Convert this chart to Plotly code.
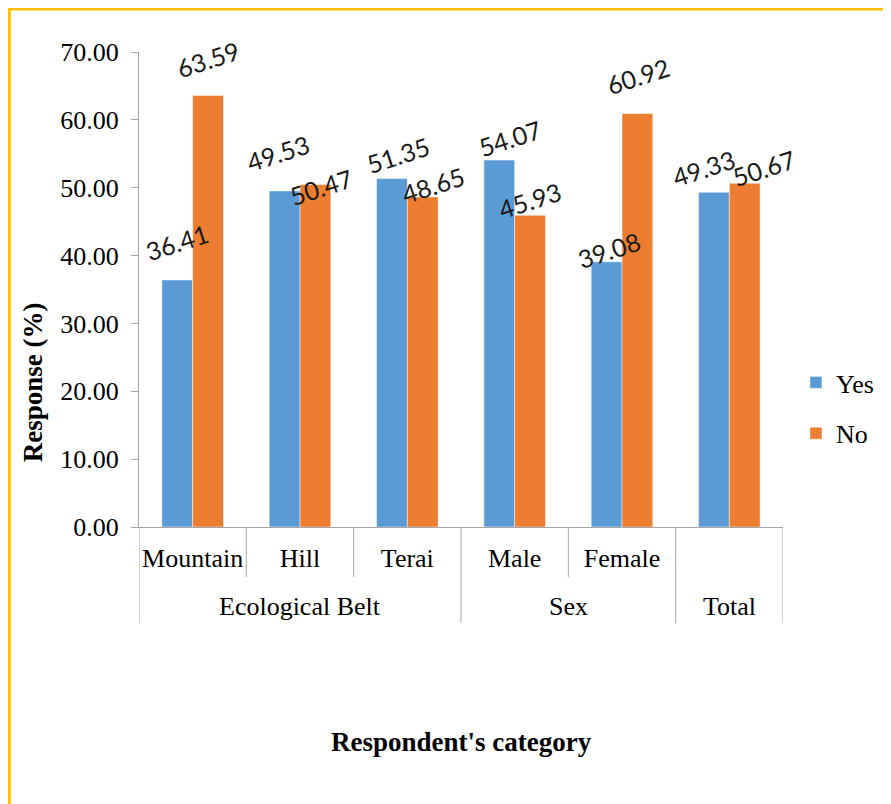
import plotly.graph_objects as go

# ---- data ----
categories = ["Mountain", "Hill", "Terai", "Male", "Female", " "]
groups = ["Ecological Belt", "Sex", "Total"]
group_sizes = [3, 2, 1]
yes_values = [36.41, 49.53, 51.35, 54.07, 39.08, 49.33]
no_values = [63.59, 50.47, 48.65, 45.93, 60.92, 50.67]
y_ticks = [0, 10, 20, 30, 40, 50, 60, 70]

# manual label nudges (pixels) as placed in the original chart
yes_label_dx = [0, -7, 6, 11, 2, -10]
yes_label_dy = [38, 38, 24, 22, 12, 24]
no_label_dx = [0, 5, 10, 0, 0, 19]
no_label_dy = [37, -2, 12, 15, 38, 15]

# ---- layout constants (pixels, reference coordinates) ----
OFF = 8                      # page body margin
W, H = 891 - OFF, 804 - OFF
PLOT_L, PLOT_R, PLOT_T, PLOT_B = 139, 785, 52, 527
PW = PLOT_R - PLOT_L
PH = PLOT_B - PLOT_T
BAR_HALF = 15.5


def px_x(px):
    return (px - PLOT_L) / PW


def px_y(py):
    return (PLOT_B - py) / PH


serif = "Liberation Serif, Times New Roman, serif"
label_font = dict(family="Lato, Carlito, Calibri, sans-serif", size=25, color="#1a1a1a")

fig = go.Figure()
fig.add_trace(go.Bar(
    name="Yes", x=categories, y=yes_values,
    marker=dict(color="#5b9bd5", line=dict(color="rgba(255,255,255,0.6)", width=0.8)),
    legendgroup="yes", hoverinfo="y",
))
fig.add_trace(go.Bar(
    name="No", x=categories, y=no_values,
    marker=dict(color="#ed7d31", line=dict(color="rgba(255,255,255,0.6)", width=0.8)),
    legendgroup="no", hoverinfo="y",
))

shapes = []
boundaries_long = {0}
acc = 0
for s in group_sizes:
    acc += s
    boundaries_long.add(acc)
for i in range(len(categories) + 1):
    y1 = px_y(623) if i in boundaries_long else px_y(577)
    shapes.append(dict(type="line", xref="x", yref="paper", x0=i - 0.5, x1=i - 0.5,
                       y0=0, y1=y1, line=dict(color="#a6a6a6", width=1)))
shapes.append(dict(type="rect", xref="paper", yref="paper",
                   x0=px_x(9), x1=px_x(920), y0=px_y(9), y1=px_y(840),
                   line=dict(color="#ffc000", width=3), layer="below"))

annotations = []
for i, cat in enumerate(categories):
    for vals, sign, dxs, dys in ((yes_values, -1, yes_label_dx, yes_label_dy),
                                 (no_values, 1, no_label_dx, no_label_dy)):
        annotations.append(dict(
            text=f"{vals[i]:.2f}", xref="x", yref="y", x=i, y=vals[i],
            xshift=sign * BAR_HALF + dxs[i], yshift=dys[i],
            showarrow=False, textangle=-18, xanchor="center", yanchor="middle",
            font=label_font))

acc = 0
for g, s in zip(groups, group_sizes):
    center = acc + (s - 1) / 2
    annotations.append(dict(text=g, xref="x", yref="paper", x=center, y=px_y(606),
                            showarrow=False, xanchor="center", yanchor="middle",
                            font=dict(family=serif, size=26, color="#000")))
    acc += s
annotations.append(dict(text="<b>Respondent's category</b>", xref="paper", yref="paper",
                        x=px_x(463), y=px_y(742), showarrow=False,
                        xanchor="center", yanchor="middle",
                        font=dict(family=serif, size=27, color="#000")))
annotations.append(dict(text="<b>Response (%)</b>", xref="paper", yref="paper",
                        x=px_x(33), y=px_y(382), showarrow=False, textangle=-90,
                        xanchor="center", yanchor="middle",
                        font=dict(family=serif, size=27, color="#000")))

fig.update_layout(
    width=W, height=H,
    margin=dict(l=PLOT_L - OFF, r=W - (PLOT_R - OFF), t=PLOT_T - OFF, b=H - (PLOT_B - OFF)),
    paper_bgcolor="white", plot_bgcolor="white",
    barmode="group", bargap=0.426, bargroupgap=0,
    shapes=shapes, annotations=annotations,
    legend=dict(x=px_x(798), y=px_y(408), xanchor="left", yanchor="middle",
                font=dict(family=serif, size=26, color="#000"),
                traceorder="grouped", tracegroupgap=14, bgcolor="rgba(0,0,0,0)"),
    xaxis=dict(type="category", range=[-0.5, len(categories) - 0.5], autorange=False,
               showline=True, linecolor="#a6a6a6", linewidth=1,
               ticks="", showgrid=False, ticklabelstandoff=8,
               tickfont=dict(family=serif, size=26, color="#000")),
    yaxis=dict(range=[0, 70], autorange=False, tickvals=y_ticks, tickformat=".2f",
               showline=True, linecolor="#a6a6a6", linewidth=1,
               ticks="outside", ticklen=7, tickcolor="#a6a6a6",
               showgrid=False, zeroline=False, ticklabelstandoff=7,
               tickfont=dict(family=serif, size=26, color="#000")),
)

fig.write_html("out.html")
